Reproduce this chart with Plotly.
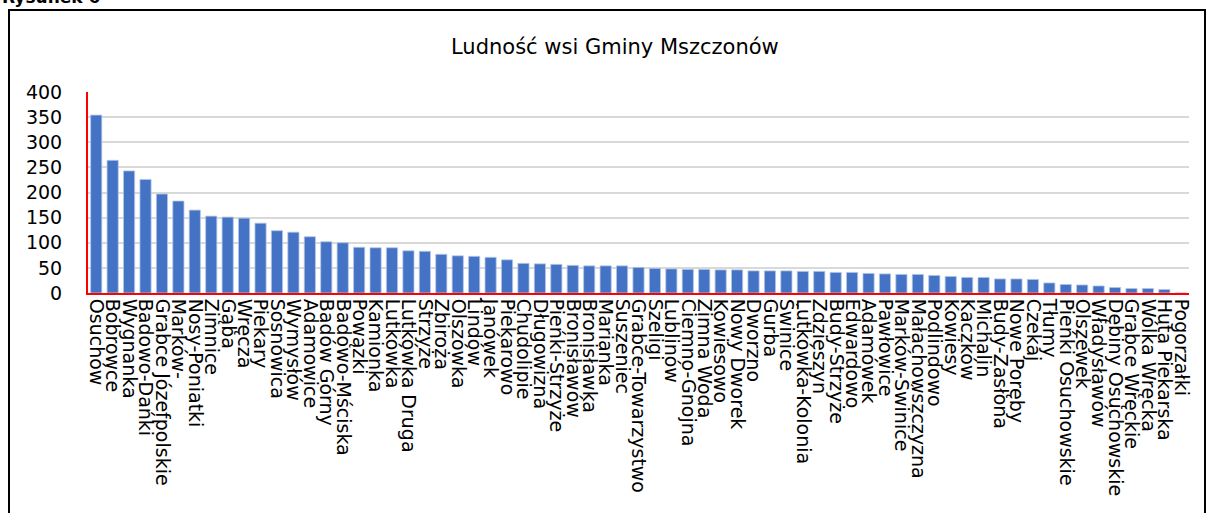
import plotly.graph_objects as go

villages = [
    "Osuchów", "Bobrowce", "Wygnanka", "Badowo-Dańki", "Grabce Józefpolskie",
    "Marków-", "Nosy-Poniatki", "Zimnice", "Gąba", "Wręcza", "Piekary",
    "Sosnowica", "Wymysłów", "Adamowice", "Badów Górny", "Badowo-Mściska",
    "Powązki", "Kamionka", "Lutkówka", "Lutkówka Druga", "Strzyże", "Zbiroża",
    "Olszówka", "Lindów", "Janówek", "Piekarowo", "Chudolipie", "Długowizna",
    "Pieńki-Strzyże", "Bronisławów", "Bronisławka", "Marianka", "Suszeniec",
    "Grabce-Towarzystwo", "Szeligi", "Lublinów", "Ciemno-Gnojna", "Zimna Woda",
    "Kowiesowo", "Nowy Dworek", "Dworzno", "Gurba", "Świnice",
    "Lutkówka-Kolonia", "Zdzieszyn", "Budy-Strzyże", "Edwardowo", "Adamówek",
    "Pawłowice", "Marków-Świnice", "Małachowszczyzna", "Podlindowo", "Kowiesy",
    "Kaczków", "Michalin", "Budy-Zasłona", "Nowe Poręby", "Czekaj", "Tłumy",
    "Pieńki Osuchowskie", "Olszewek", "Władysławów", "Dębiny Osuchowskie",
    "Grabce Wręckie", "Wólka Wręcka", "Huta Piekarska", "Pogorzałki",
]

population = [
    354, 264, 243, 226, 197, 183, 165, 153, 151, 149, 139,
    124, 121, 112, 102, 100, 91, 90, 90, 84, 83, 77,
    74, 73, 71, 66, 59, 58, 57, 55, 54, 54, 54,
    51, 49, 48, 47, 47, 46, 46, 44, 44, 44,
    43, 43, 41, 41, 39, 38, 37, 37, 35, 33,
    31, 31, 28, 28, 27, 20, 17, 16, 14, 11,
    9, 9, 7, 0,
]

y_ticks = [0, 50, 100, 150, 200, 250, 300, 350, 400]

W, H = 1207, 513
L, R, T, B = 88, 18, 92, 220
pw = W - L - R
ph = H - T - B


def px_x(p):
    return (p - L) / pw


def px_y(p):
    return (H - B - p) / ph


fig = go.Figure()
fig.add_trace(go.Bar(
    x=villages,
    y=population,
    marker=dict(color="#4472C4", line=dict(color="#b4c7e7", width=0.8)),
))

fig.update_layout(
    width=W,
    height=H,
    margin=dict(l=L, r=R, t=T, b=B),
    paper_bgcolor="white",
    plot_bgcolor="white",
    bargap=0.32,
    showlegend=False,
    font=dict(family="DejaVu Sans", color="black"),
    shapes=[
        dict(type="rect", xref="paper", yref="paper",
             x0=px_x(9), x1=px_x(1205), y0=px_y(530), y1=px_y(10),
             line=dict(color="black", width=2), layer="below"),
    ],
    annotations=[
        dict(text="Ludność wsi Gminy Mszczonów", xref="paper", yref="paper",
             x=px_x(615), y=px_y(47), xanchor="center", yanchor="middle",
             showarrow=False, font=dict(size=21, family="DejaVu Sans")),
        dict(text="<b>Rysunek 6</b>", xref="paper", yref="paper",
             x=px_x(0), y=px_y(-3), xanchor="left", yanchor="middle",
             showarrow=False, font=dict(size=17, family="DejaVu Sans")),
    ],
)

fig.update_xaxes(
    type="category",
    tickmode="linear", tick0=0, dtick=1,
    tickangle=90,
    tickfont=dict(size=19, family="DejaVu Sans"),
    showline=True, linecolor="red", linewidth=2,
    showgrid=False, ticks="",
)
fig.update_yaxes(
    range=[0, 400],
    tickvals=y_ticks,
    tickfont=dict(size=19, family="DejaVu Sans"),
    showline=True, linecolor="red", linewidth=2,
    showgrid=True, gridcolor="#d9d9d9", gridwidth=2,
    zeroline=False,
    ticklabelstandoff=20,
)

fig.write_html(
    "out.html",
    config={"displayModeBar": False},
    post_script="document.body.style.margin='0';document.body.style.overflow='hidden';",
)
